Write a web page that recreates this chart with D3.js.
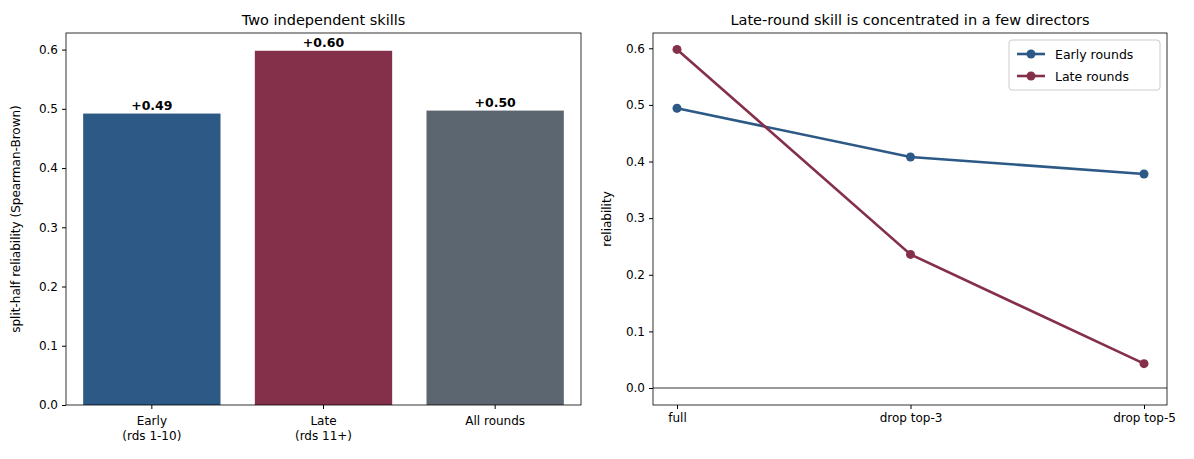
<!DOCTYPE html>
<html><head><meta charset="utf-8">
<script src="https://cdn.jsdelivr.net/npm/d3@7"></script>
<style>body{margin:0;background:#fff;font-family:"DejaVu Sans",sans-serif;}</style>
</head><body><svg id="c" width="1194" height="459"></svg>
<script>
const barCats = ["Early\n(rds 1-10)", "Late\n(rds 11+)", "All rounds"];
const barVals = [0.492, 0.598, 0.497];
const barColors = ["#2c5985", "#85304a", "#5c6670"];
const yTicks = [0,0.1,0.2,0.3,0.4,0.5,0.6];
const lineCats = ["full", "drop top-3", "drop top-5"];
const earlyVals = [0.494, 0.408, 0.378];
const lateVals = [0.598, 0.236, 0.043];
const rYTicks = [0,0.1,0.2,0.3,0.4,0.5,0.6];

const svg = d3.select("#c");
const fs = "12px";
function title(g, x, t){ g.append("text").attr("x",x).attr("y",-8).attr("text-anchor","middle").style("font-size","14.5px").text(t); }
function styleAxis(a){ a.selectAll("text").style("font-size","12px").style("font-family","DejaVu Sans"); a.select(".domain").remove(); a.selectAll("line").attr("stroke","#000"); }

// Left
{
const L={x:66,y:33,w:515,h:372};
const g=svg.append("g").attr("transform",`translate(${L.x},${L.y})`);
const x=d3.scaleBand().domain(barCats).range([0,L.w]).paddingInner(0.2).paddingOuter(0.1);
const y=d3.scaleLinear().domain([0,0.628]).range([L.h,0]);
g.selectAll("rect.b").data(barVals).join("rect").attr("x",(d,i)=>x(barCats[i])).attr("width",x.bandwidth())
 .attr("y",d=>y(d)).attr("height",d=>L.h-y(d)).attr("fill",(d,i)=>barColors[i]);
g.selectAll("text.v").data(barVals).join("text").attr("x",(d,i)=>x(barCats[i])+x.bandwidth()/2).attr("y",d=>y(d)-4)
 .attr("text-anchor","middle").style("font-size","12.5px").style("font-weight","bold").text(d=>"+"+d.toFixed(2));
const ay=g.append("g").call(d3.axisLeft(y).tickValues(yTicks).tickFormat(d3.format(".1f")).tickSize(4).tickPadding(4)); styleAxis(ay);
const ax=g.append("g").attr("transform",`translate(0,${L.h})`).call(d3.axisBottom(x).tickSize(4).tickFormat("")); styleAxis(ax);
barCats.forEach(c=>{const t=g.append("text").attr("text-anchor","middle").style("font-size","12px").attr("x",x(c)+x.bandwidth()/2).attr("y",L.h+20);
 c.split("\n").forEach((s,i)=>t.append("tspan").attr("x",x(c)+x.bandwidth()/2).attr("dy",i?15:0).text(s));});
g.append("rect").attr("width",L.w).attr("height",L.h).attr("fill","none").attr("stroke","#000").attr("stroke-width",0.8);
title(g,L.w/2,"Two independent skills");
g.append("text").attr("transform",`translate(-46,${L.h/2}) rotate(-90)`).attr("text-anchor","middle").style("font-size","12px").text("split-half reliability (Spearman-Brown)");
}
// Right
{
const R={x:653,y:33,w:514,h:372};
const g=svg.append("g").attr("transform",`translate(${R.x},${R.y})`);
const x=d3.scalePoint().domain(lineCats).range([24,491]);
const y=d3.scaleLinear().domain([-0.030,0.627]).range([R.h,0]);
g.append("line").attr("x1",0).attr("x2",R.w).attr("y1",y(0)).attr("y2",y(0)).attr("stroke","#000").attr("stroke-width",0.8);
const series=[{n:"Early rounds",v:earlyVals,c:"#2c5985"},{n:"Late rounds",v:lateVals,c:"#85304a"}];
const line=d3.line().x((d,i)=>x(lineCats[i])).y(d=>y(d));
series.forEach(s=>{
 g.append("path").attr("d",line(s.v)).attr("fill","none").attr("stroke",s.c).attr("stroke-width",2.6);
 g.selectAll(null).data(s.v).join("circle").attr("cx",(d,i)=>x(lineCats[i])).attr("cy",d=>y(d)).attr("r",4.5).attr("fill",s.c);
});
const ay=g.append("g").call(d3.axisLeft(y).tickValues(rYTicks).tickFormat(d3.format(".1f")).tickSize(4).tickPadding(4)); styleAxis(ay);
const ax=g.append("g").attr("transform",`translate(0,${R.h})`).call(d3.axisBottom(x).tickSize(4).tickPadding(4)); styleAxis(ax);
g.append("rect").attr("width",R.w).attr("height",R.h).attr("fill","none").attr("stroke","#000").attr("stroke-width",0.8);
title(g,R.w/2,"Late-round skill is concentrated in a few directors");
g.append("text").attr("transform",`translate(-42,${R.h/2}) rotate(-90)`).attr("text-anchor","middle").style("font-size","12px").text("reliability");
const lg=g.append("g").attr("transform",`translate(${R.w-158},7)`);
lg.append("rect").attr("width",151).attr("height",50).attr("rx",3).attr("fill","#fff").attr("stroke","#ccc");
series.forEach((s,i)=>{const yy=14+i*22;
 lg.append("line").attr("x1",8).attr("x2",36).attr("y1",yy).attr("y2",yy).attr("stroke",s.c).attr("stroke-width",2.6);
 lg.append("circle").attr("cx",22).attr("cy",yy).attr("r",4.5).attr("fill",s.c);
 lg.append("text").attr("x",46).attr("y",yy+4.5).style("font-size","12.5px").text(s.n);});
}
</script></body></html>
